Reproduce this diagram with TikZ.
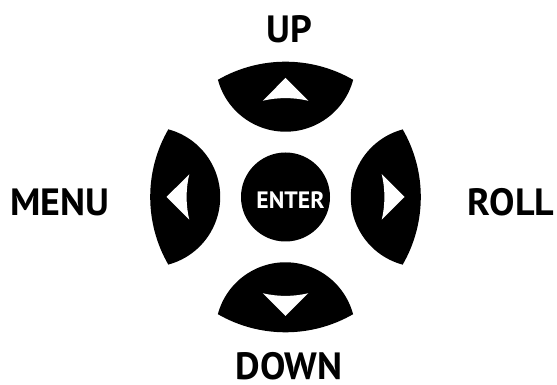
\documentclass[tikz,border=0pt]{standalone}
\usepackage{fontspec}
\setmainfont{PT Sans}
\usetikzlibrary{positioning}

\begin{document}
\begin{tikzpicture}[x=1pt,y=1pt,lbl/.style={font=\fontsize{38}{38}\selectfont\bfseries,inner sep=0pt},key/.style={fill=black}]
\useasboundingbox (0,0) rectangle (557,385);
\coordinate (pad) at (285.5,188);
% four arrow keys
\foreach \ang in {0,90,180,270}{
  \begin{scope}[shift={(pad)},rotate=\ang]
    \fill[key] (120:135.3) arc[start angle=120,end angle=60,radius=135.3]
      arc[start angle=-15,end angle=-165,radius=70] -- cycle;
    \fill[white] (90:119) -- (76.7:98.9) arc[start angle=76.7,end angle=103.3,radius=98.9] -- cycle;
  \end{scope}
}
\fill[key] (pad) circle[radius=44.5];
\node[inner sep=0pt,text=white,font=\fontsize{23.7}{24}\selectfont\bfseries] (enter) at (290.5,185) {ENTER};
\node[lbl] (up) at (289,356) {UP};
\node[lbl] (menu) at (59.7,183) {MENU};
\node[lbl] (roll) at (511,183) {ROLL};
\node[lbl] (down) at (289.3,19) {DOWN};
\end{tikzpicture}
\end{document}
